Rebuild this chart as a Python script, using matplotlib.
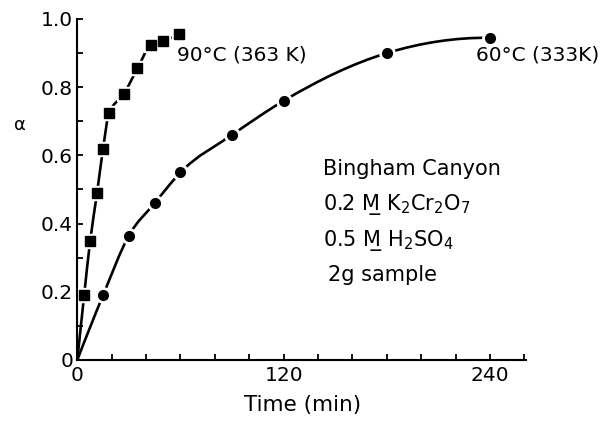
import matplotlib
matplotlib.use("Agg")
import matplotlib.pyplot as plt
import numpy as np
from matplotlib.path import Path
from matplotlib.patches import PathPatch

# 90 °C (363 K) data
t90 = [0, 4, 7.5, 11.5, 15, 18.5, 27, 35, 43, 50, 59]
a90 = [0, 0.19, 0.35, 0.49, 0.62, 0.725, 0.78, 0.855, 0.925, 0.935, 0.955]
# 60 °C (333 K) data
t60 = [0, 15, 30, 45, 60, 90, 120, 180, 240]
a60 = [0, 0.19, 0.365, 0.46, 0.55, 0.66, 0.76, 0.90, 0.945]

xticks_major = [0, 120, 240]
yticks_major = [0, 0.2, 0.4, 0.6, 0.8, 1.0]
ytick_labels = ["0", "0.2", "0.4", "0.6", "0.8", "1.0"]

plt.rcParams['font.family'] = ['DejaVu Sans']
fig = plt.figure(figsize=(6.11, 4.21), dpi=100)
ax = fig.add_axes([0.1265, 0.1449, 0.861 - 0.1265, 0.9549 - 0.1449])
ax.set_xlim(0, 261)
ax.set_ylim(0, 1.0)


def smooth_path(xs, ys, monotone=False):
    # Cubic curve through the data, as Bezier segments.
    x = np.asarray(xs, float)
    y = np.asarray(ys, float)
    h = np.diff(x)
    d = np.diff(y) / h
    n = len(x)
    m = np.zeros(n)
    for k in range(1, n - 1):
        if monotone:
            w1 = 2 * h[k] + h[k - 1]
            w2 = h[k] + 2 * h[k - 1]
            m[k] = (w1 + w2) / (w1 / d[k - 1] + w2 / d[k])
        else:
            m[k] = (d[k - 1] * h[k] + d[k] * h[k - 1]) / (h[k - 1] + h[k])
    if monotone:
        m[0] = d[0]
        m[-1] = d[-1]
    else:
        m[0] = d[0] + (d[0] - d[1]) * h[0] / (h[0] + h[1])
        m[-1] = d[-1] + (d[-1] - d[-2]) * h[-1] / (h[-1] + h[-2])
    verts = [(x[0], y[0])]
    codes = [Path.MOVETO]
    for k in range(n - 1):
        verts += [(x[k] + h[k] / 3, y[k] + m[k] * h[k] / 3),
                  (x[k + 1] - h[k] / 3, y[k + 1] - m[k + 1] * h[k] / 3),
                  (x[k + 1], y[k + 1])]
        codes += [Path.CURVE4] * 3
    return Path(verts, codes)


for t, a, mk, ms, mono in [(t90, a90, 's', 6.5, True), (t60, a60, 'o', 7.0, False)]:
    patch = PathPatch(smooth_path(t, a, mono), facecolor='none', edgecolor='black',
                      lw=1.9, transform=ax.transData, zorder=2)
    ax.add_patch(patch)
    ax.plot(t[1:], a[1:], mk, color='white', ms=ms + 4, mec='white', zorder=3, clip_on=False)
    ax.plot(t[1:], a[1:], mk, color='black', ms=ms, mec='black', zorder=4, clip_on=False)

ax.set_xlim(0, 261)
ax.set_ylim(0, 1.0)
ax.spines['top'].set_visible(False)
ax.spines['right'].set_visible(False)
for s in ['left', 'bottom']:
    ax.spines[s].set_linewidth(1.5)
    ax.spines[s].set_zorder(5)
ax.set_xticks(xticks_major)
ax.set_xticks(list(range(0, 261, 20)), minor=True)
ax.set_yticks(yticks_major)
ax.set_yticklabels(ytick_labels)
ax.set_yticks([i / 10 for i in range(11)], minor=True)
ax.tick_params(which='both', direction='in', length=4.5, width=1.3, labelsize=14.5, color='black')
ax.tick_params(axis='x', pad=4)
ax.tick_params(axis='y', pad=3)

fig.text(0.496, 0.038, "Time (min)", ha='center', va='center', fontsize=15.5)
fig.text(0.033, 0.703, "α", ha='center', va='center', fontsize=13)

ax.text(58, 0.895, "90°C (363 K)", ha='left', va='center', fontsize=14.5)
ax.text(232, 0.895, "60°C (333K)", ha='left', va='center', fontsize=14.5)
ax.text(143, 0.56, "Bingham Canyon", ha='left', va='center', fontsize=15)
ax.text(143, 0.455, "0.2 M\u0332 K$_2$Cr$_2$O$_7$", ha='left', va='center', fontsize=15)
ax.text(143, 0.35, "0.5 M\u0332 H$_2$SO$_4$", ha='left', va='center', fontsize=15)
ax.text(146, 0.25, "2g sample", ha='left', va='center', fontsize=15)

fig.savefig("out.png", dpi=100)
